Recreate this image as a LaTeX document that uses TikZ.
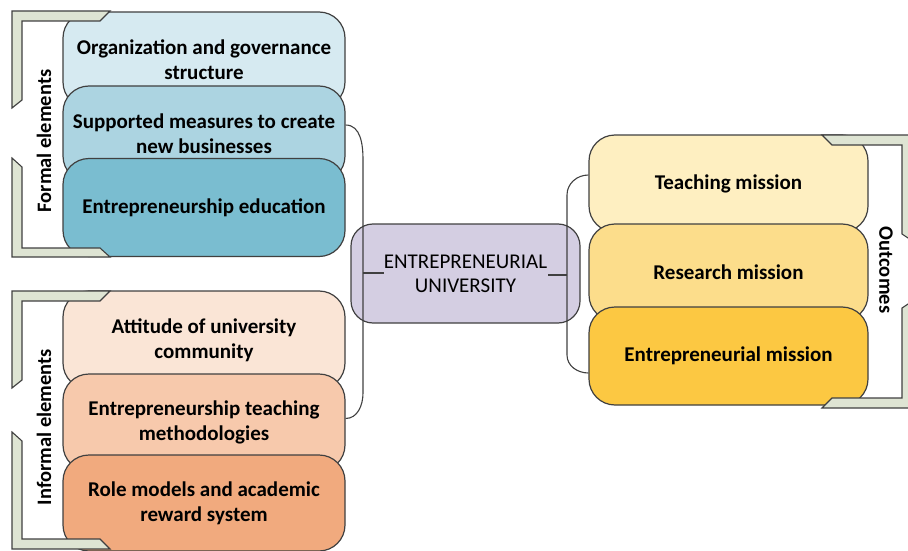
\documentclass[tikz,border=0pt]{standalone}
\usepackage{fontspec}
\setmainfont{Carlito}
\usetikzlibrary{calc}

\definecolor{boxA}{RGB}{214,234,241}
\definecolor{boxB}{RGB}{172,212,225}
\definecolor{boxC}{RGB}{122,189,208}
\definecolor{boxD}{RGB}{250,229,214}
\definecolor{boxE}{RGB}{247,201,172}
\definecolor{boxF}{RGB}{241,170,126}
\definecolor{goalA}{RGB}{254,239,193}
\definecolor{goalB}{RGB}{252,221,139}
\definecolor{goalC}{RGB}{252,200,66}
\definecolor{hubfill}{RGB}{212,206,226}
\definecolor{bandfill}{RGB}{222,228,211}
\definecolor{edgegray}{RGB}{64,64,64}

\begin{document}
\begin{tikzpicture}[x=1pt,y=-1pt,
  box/.style={draw=edgegray, line width=1.2pt, rounded corners=26pt,
    align=center, text=black, inner sep=2pt,
    font=\bfseries\fontsize{21}{25}\selectfont},
  leftbox/.style={box, minimum width=282pt},
  rightbox/.style={box, minimum width=279pt},
  hub/.style={draw=edgegray, line width=1.2pt, rounded corners=22pt,
    fill=hubfill, align=center, minimum width=229pt, minimum height=99pt,
    font=\fontsize{21}{24}\selectfont},
  band/.style={draw=edgegray, line width=1.1pt, fill=bandfill, line join=miter},
  link/.style={draw=edgegray, line width=1.1pt},
  sidelabel/.style={font=\bfseries\fontsize{20.5}{22}\selectfont, inner sep=0pt}]

\useasboundingbox (0,0) rectangle (908,551);

% formal elements
\node[leftbox, fill=boxA, minimum height=96pt] (b1) at (204,60)
  {Organization and governance\\structure};
\node[leftbox, fill=boxB, minimum height=96pt] (b2) at (204,134)
  {Supported measures to create\\new businesses};
\node[leftbox, fill=boxC, minimum height=98pt] (b3) at (204,207.5)
  {Entrepreneurship education};

% informal elements
\node[leftbox, fill=boxD, minimum height=98pt] (b4) at (204,340)
  {Attitude of university\\community};
\node[leftbox, fill=boxE, minimum height=97pt] (b5) at (204,422.5)
  {Entrepreneurship teaching\\methodologies};
\node[leftbox, fill=boxF, minimum height=96pt] (b6) at (204,503)
  {Role models and academic\\reward system};

% outcomes
\node[rightbox, fill=goalA, minimum height=97pt] (g1) at (728.5,183.5)
  {Teaching mission};
\node[rightbox, fill=goalB, minimum height=97pt] (g2) at (728.5,272.5)
  {Research mission};
\node[rightbox, fill=goalC, minimum height=98pt] (g3) at (728.5,356)
  {Entrepreneurial mission};

% central node
\node[hub] (hub) at (465.5,273.5) {ENTREPRENEURIAL\\UNIVERSITY};

% brace on the left
\coordinate (lt) at (363,160);
\coordinate (lb) at (363,393);
\coordinate (lm) at (363,273);
\coordinate (lmend) at (384,273);
\draw[link] ([yshift=9pt]b2.east) to[out=0,in=90] (lt) -- (lb)
  to[out=-90,in=0] ([yshift=4pt]b5.east);
\draw[link] (lm) -- (lmend);

% brace on the right
\coordinate (rt) at (567,195);
\coordinate (rb) at (567,355);
\coordinate (rm) at (567,275);
\coordinate (rmend) at (548,275);
\draw[link] ([yshift=8.5pt]g1.west) to[out=180,in=90] (rt) -- (rb)
  to[out=-90,in=180] ([yshift=-17pt]g3.west);
\draw[link] (rm) -- (rmend);

% side frames
\draw[band] (12,11) -- (110,11) -- (100,21) -- (22,21) -- (22,100) -- (12,108) -- cycle;
\draw[band] (12,158) -- (22,167) -- (22,248) -- (100,248) -- (110,257) -- (12,257) -- cycle;
\draw[band] (12,291) -- (110,291) -- (100,301) -- (22,301) -- (22,380) -- (12,388) -- cycle;
\draw[band] (12,432) -- (22,441) -- (22,539) -- (100,539) -- (110,549) -- (12,549) -- cycle;
\draw[band] (822,135) -- (914,135) -- (914,242) -- (902,234) -- (902,145) -- (832,145) -- cycle;
\draw[band] (914,300) -- (902,308) -- (902,398) -- (832,398) -- (822,408) -- (914,408) -- cycle;

\node[sidelabel, rotate=90] (lf) at (44,141) {Formal elements};
\node[sidelabel, rotate=90] (li) at (44,427) {Informal elements};
\node[sidelabel, rotate=-90] (lo) at (886,270) {Outcomes};

\end{tikzpicture}
\end{document}
